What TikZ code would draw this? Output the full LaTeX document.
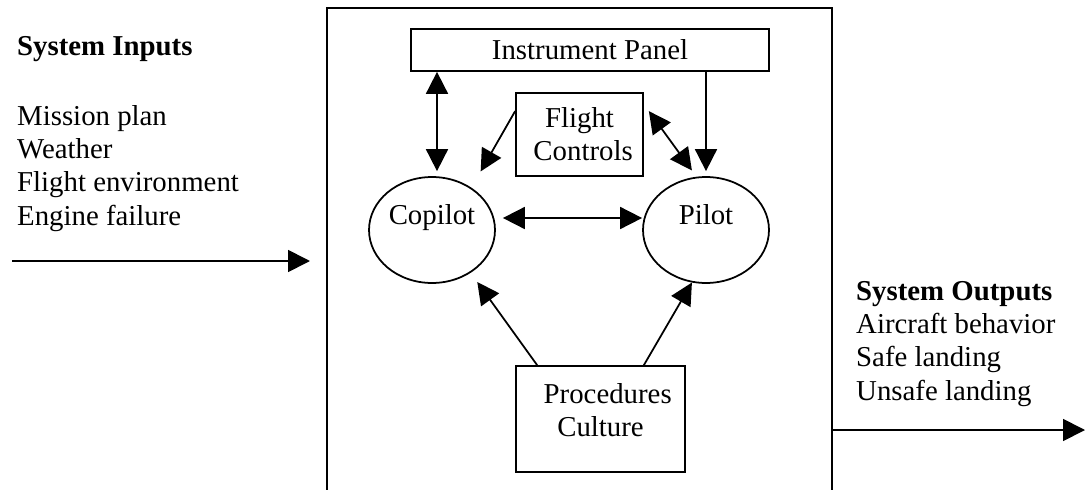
\documentclass[tikz,border=0pt]{standalone}
\usepackage{fontspec}
\setmainfont{Liberation Serif}
\usetikzlibrary{arrows.meta, shapes.geometric}

\begin{document}
\begin{tikzpicture}[x=0.02cm, y=-0.02cm,
  every node/.style={font=\fontsize{16.4}{18.8}\selectfont},
  box/.style={draw, line width=1pt, inner sep=0pt, align=center},
  crew/.style={draw, ellipse, line width=1pt, inner sep=0pt, minimum width=2.52cm, minimum height=2.12cm, text height=10pt, text depth=16pt},
  flow/.style={line width=1pt, -{Triangle[length=0.44cm, width=0.44cm]}},
  both/.style={line width=1pt, {Triangle[length=0.44cm, width=0.44cm]}-{Triangle[length=0.44cm, width=0.44cm]}}]
\useasboundingbox (0,0) rectangle (1085,490);
\node[box, minimum width=10.1cm, minimum height=9.94cm] (system) at (579.5,256.5) {};
\node[box, minimum width=7.16cm, minimum height=0.84cm] (panel) at (590,50) {Instrument Panel};
\node[box, minimum width=2.54cm, minimum height=1.66cm] (controls) at (579.5,134.5) {Flight\\ \ Controls};
\node[crew] (copilot) at (432,230) {Copilot};
\node[crew] (pilot) at (706,230) {Pilot};
\node[box, minimum width=3.38cm, minimum height=2.12cm, text depth=10pt] (procs) at (600.5,419) {\ \ Procedures\\Culture};
\node[anchor=base west, align=left] (inputs) at (11,225) {\textbf{System Inputs}\\[21pt]Mission plan\\Weather\\Flight environment\\Engine failure};
\node[anchor=base west, align=left] (outputs) at (850,400) {\textbf{System Outputs}\\Aircraft behavior\\Safe landing\\Unsafe landing};
\coordinate (inStart) at (12,261);
\coordinate (inEnd) at (310,261);
\coordinate (outEnd) at (1085,430);
\draw[flow] (inStart) -- (inEnd);
\draw[flow] (system.east |- outEnd) -- (outEnd);
\draw[both] ([xshift=0.1cm]copilot.north |- panel.south) -- ([xshift=0.1cm, yshift=0.1cm]copilot.north);
\draw[flow] (pilot.north |- panel.south) -- ([yshift=0.1cm]pilot.north);
\draw[flow] ([yshift=-0.38cm]controls.north west) -- ([shift={(0.07cm,0.41cm)}]copilot.north east);
\draw[both] ([shift={(0.1cm,-0.38cm)}]controls.north east) -- ([yshift=0.14cm]pilot.105);
\draw[both] ([shift={(0.14cm,0.24cm)}]copilot.east) -- ([yshift=0.24cm]pilot.west);
\draw[flow] ([xshift=0.44cm]procs.north west) -- ([yshift=-0.28cm]copilot.-40);
\draw[flow] ([xshift=-0.84cm]procs.north east) -- (pilot.-105);
\end{tikzpicture}
\end{document}
